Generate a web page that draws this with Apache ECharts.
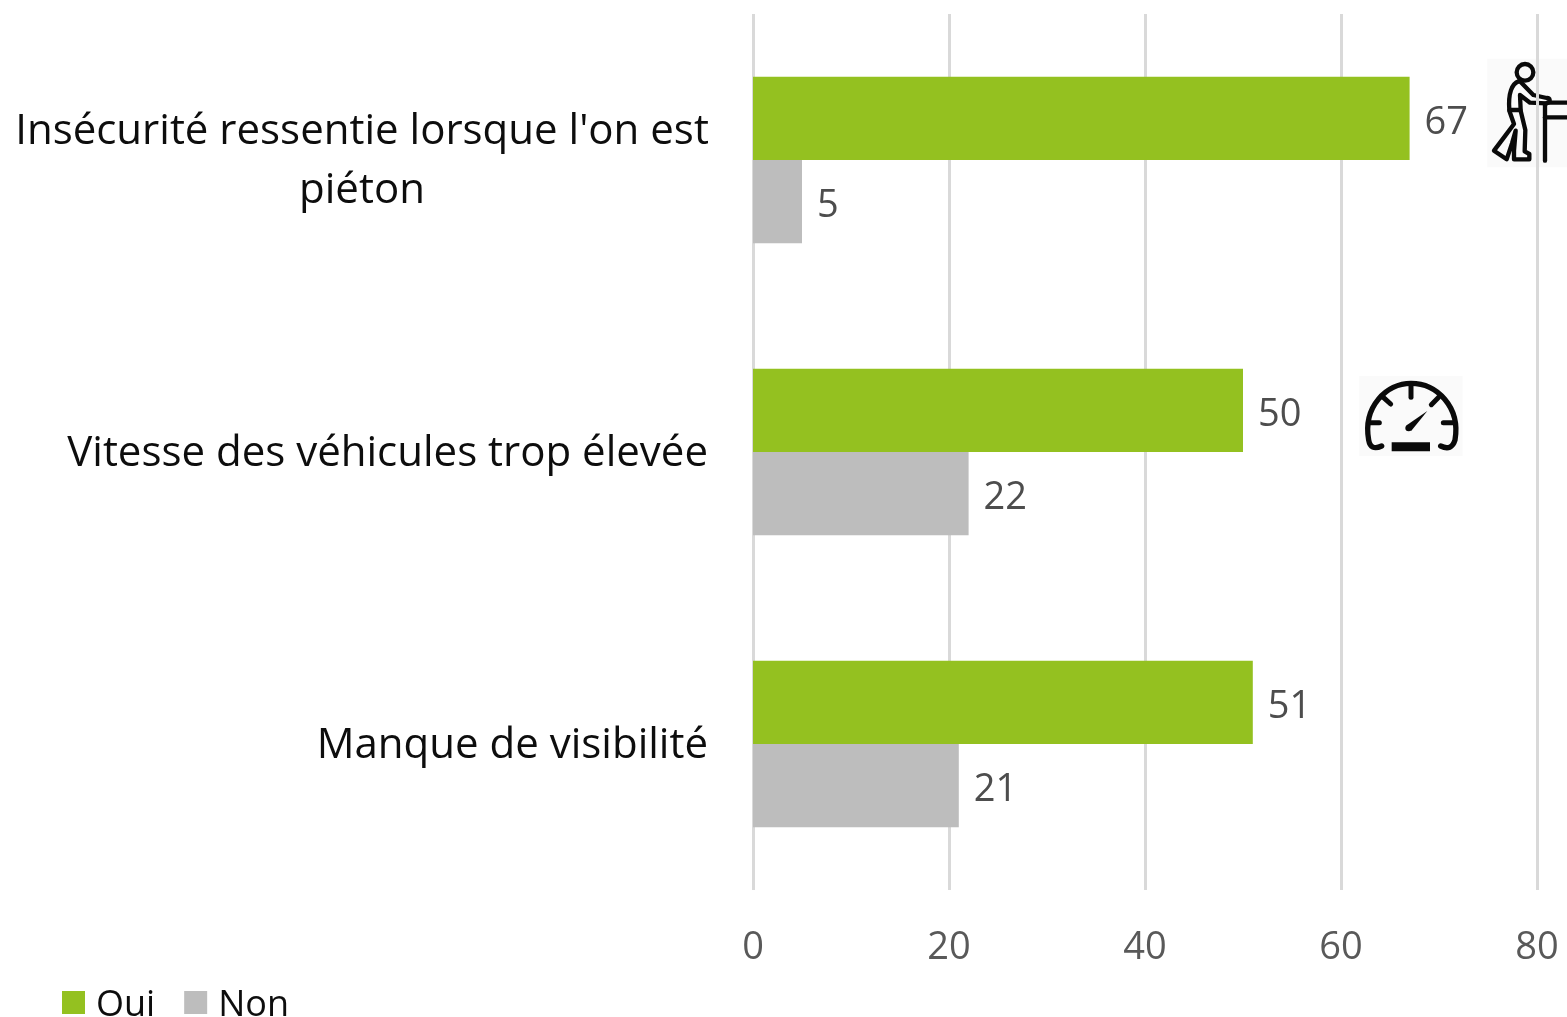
<!DOCTYPE html>
<html lang="fr">
<head>
<meta charset="utf-8">
<style>html,body{margin:0;padding:0;background:#fff;overflow:hidden}#c{width:1567px;height:1017px}</style>
<script src="https://cdn.jsdelivr.net/npm/echarts@6/dist/echarts.min.js"></script>
</head>
<body>
<div id="c"></div>
<script>
const categories = ["Insécurité ressentie lorsque l'on est\npiéton", "Vitesse des véhicules trop élevée", "Manque de visibilité"];
const oui = [67, 50, 51];
const non = [5, 22, 21];
const FONT = '"Open Sans", sans-serif';
const GREEN = '#94c120', GREY = '#bdbdbd';

const chart = echarts.init(document.getElementById('c'), null, {renderer: 'canvas'});

function bar(name, data, color) {
  return {
    name, type: 'bar', data, barGap: 0, barCategoryGap: '43%',
    itemStyle: {color},
    label: {show: true, position: 'right', distance: 15, offset: [0, 5], fontFamily: FONT, fontSize: 38, color: '#4d4d4d'}
  };
}

const ink = {stroke: '#0a0a0a', fill: 'none', lineWidth: 13, lineCap: 'round', lineJoin: 'round'};
let shapeCount = 0;
function stroke(path, w) {
  const type = 'iconPath' + (shapeCount++);
  echarts.graphic.registerShape(type, echarts.graphic.extendPath(path, {}));
  return {type, style: Object.assign({}, ink, w ? {lineWidth: w} : {})};
}

chart.setOption({
  animation: false,
  backgroundColor: '#fff',
  grid: {left: 753, right: 30, top: 14, bottom: 127, containLabel: false},
  legend: {
    left: 57, top: 983, itemWidth: 23, itemHeight: 23, itemGap: 29, icon: 'rect',
    formatter: name => '{t|' + name + '}',
    textStyle: {
      fontFamily: FONT, fontSize: 36, color: '#0d0d0d', padding: [0, 0, 0, 6],
      rich: {t: {fontFamily: FONT, fontSize: 36, color: '#0d0d0d', padding: [7, 0, 0, 0]}}
    },
    data: ['Oui', 'Non']
  },
  xAxis: {
    type: 'value', min: 0, max: 80, interval: 20,
    axisLine: {show: false}, axisTick: {show: false},
    splitLine: {show: true, lineStyle: {color: '#d9d9d9', width: 3}},
    axisLabel: {margin: 39, fontFamily: FONT, fontSize: 38, color: '#595959'}
  },
  yAxis: {
    type: 'category', inverse: true, data: categories,
    axisLine: {show: false}, axisTick: {show: false},
    axisLabel: {
      margin: 45, color: '#0d0d0d', interval: 0, padding: [4, 0, 0, 0],
      formatter: v => v.indexOf('\n') >= 0
        ? v.split('\n').map(s => '{c|' + s + '}').join('\n')
        : '{r|' + v + '}',
      rich: {
        c: {width: 692, align: 'center', fontFamily: FONT, fontSize: 42, lineHeight: 59, color: '#0d0d0d'},
        r: {fontFamily: FONT, fontSize: 42, lineHeight: 59, color: '#0d0d0d'}
      }
    }
  },
  series: [bar('Oui', oui, GREEN), bar('Non', non, GREY)],
  graphic: [
    {type: 'group', x: 1350, y: 40, scaleX: 1/3, scaleY: 1/3, children: [
      {type: 'rect', shape: {x: 412, y: 56, width: 239, height: 326}, style: {fill: '#fafafa'}},
      {type: 'circle', shape: {cx: 525, cy: 97, r: 25}, style: ink},
      stroke('M506 124 C486 130 474 160 478 210 L512 210 L510 165 L540 188 L590 190 C604 186 600 172 590 174 L550 165 L512 126'),
      stroke('M478 212 L492 252 L462 292 L432 332 L470 358 L486 310 L497 272 L492 332 L492 358 L538 358 L538 342 L524 334 L526 270 L512 212'),
      stroke('M585 192 L585 362'),
      stroke('M592 188 L651 188'),
      stroke('M585 232 L651 232')
    ]},
    {type: 'group', x: 1340, y: 360, scaleX: 1/3, scaleY: 1/3, children: [
      {type: 'rect', shape: {x: 58, y: 48, width: 310, height: 240}, style: {fill: '#fafafa'}},
      stroke('M125 258 Q92 274 86 240 C68 140 140 70 213 70 C290 70 362 140 345 240 Q335 274 302 258', 16),
      stroke('M213 72 L213 112', 15),
      stroke('M130 112 L152 132', 15),
      stroke('M296 112 L274 134', 15),
      stroke('M88 188 L118 188', 15),
      stroke('M342 188 L310 188', 15),
      {type: 'rect', shape: {x: 155, y: 247, width: 115, height: 27}, style: {fill: '#0a0a0a'}},
      {type: 'polygon', shape: {points: [[262, 153], [200, 196], [214, 212]]}, style: {fill: '#0a0a0a'}},
      {type: 'circle', shape: {cx: 206, cy: 204, r: 10}, style: {fill: '#0a0a0a'}}
    ]}
  ]
});
</script>
</body>
</html>
